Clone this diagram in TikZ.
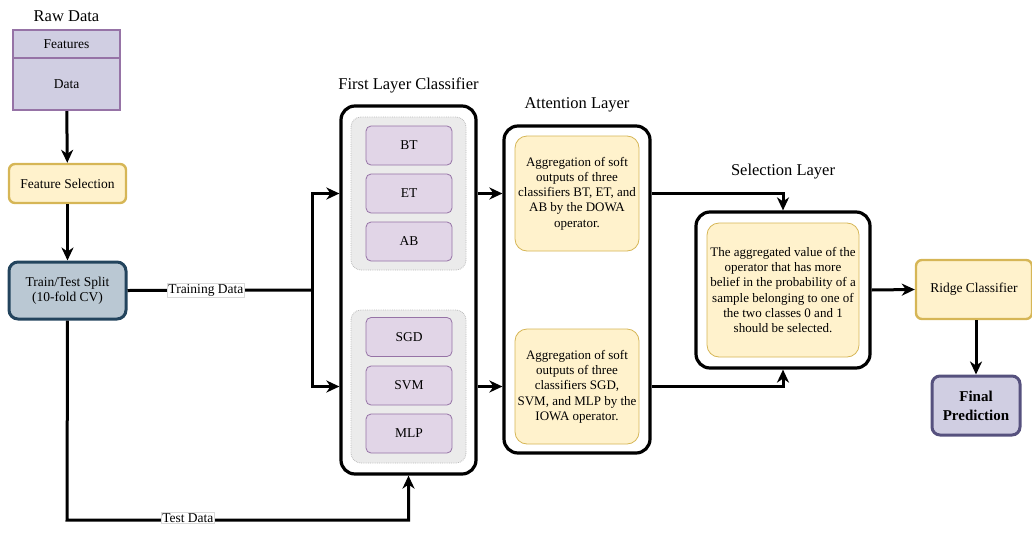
\documentclass[tikz,border=0pt]{standalone}
\usepackage{fontspec}
\setmainfont{Liberation Serif}
\usetikzlibrary{arrows.meta,positioning}

\definecolor{rawfill}{HTML}{D0CEE2}
\definecolor{rawline}{HTML}{9673A6}
\definecolor{yelfill}{HTML}{FFF2CC}
\definecolor{yelline}{HTML}{D6B656}
\definecolor{splitfill}{HTML}{BAC8D3}
\definecolor{splitline}{HTML}{23445D}
\definecolor{clsfill}{HTML}{E1D5E7}
\definecolor{grpfill}{HTML}{EBEBEB}
\definecolor{grpline}{HTML}{BDBDBD}
\definecolor{predline}{HTML}{56517E}

\tikzset{
	txt/.style={font=\fontsize{13.5}{15.5}\selectfont, align=center, inner sep=2pt},
	small/.style={font=\fontsize{13}{15.3}\selectfont, align=center, inner sep=2pt},
	heading/.style={font=\fontsize{16.5}{19}\selectfont, inner sep=2pt},
	rawbox/.style={txt, draw=rawline, fill=rawfill, line width=2.4pt, minimum width=107pt},
	yelbox/.style={txt, draw=yelline, fill=yelfill, line width=2.4pt, rounded corners=6pt},
	innerbox/.style={small, draw=yelline, fill=yelfill, line width=0.8pt, rounded corners=12pt},
	layer/.style={draw, line width=3.2pt, rounded corners=14pt, fill=white},
	group/.style={draw=grpline, densely dotted, fill=grpfill, line width=0.8pt, rounded corners=10pt, minimum width=115pt, minimum height=153pt},
	clsbox/.style={txt, draw=rawline, fill=clsfill, line width=0.8pt, rounded corners=5pt, minimum width=86pt, minimum height=39pt},
	flow/.style={line width=3pt},
	arr/.style={flow, -{Stealth[length=13pt,width=12pt,inset=4pt]}},
	lbl/.style={txt, fill=white, draw=black!15, line width=0.4pt, inner sep=1pt},
}

\begin{document}
\begin{tikzpicture}[x=1pt,y=-1pt]
	\useasboundingbox (0,0) rectangle (1032,533);

	% raw data
	\node[rawbox, minimum height=28pt] (feat) at (66.5,44) {Features};
	\node[rawbox, minimum height=52pt] (data) at (66.5,84) {Data};
	\node[heading, above=5pt of feat] (rawt) {Raw Data};

	\node[yelbox, minimum width=117pt, minimum height=39pt] (fsel) at (67.5,183.5) {Feature Selection};
	\node[txt, draw=splitline, fill=splitfill, line width=3pt, rounded corners=9pt, minimum width=117pt, minimum height=57pt] (split) at (67.5,290.5) {Train/Test Split\\(10-fold CV)};

	\draw[arr] (data) -- (fsel);
	\draw[arr] (fsel) -- (split);

	% first layer
	\node[layer, minimum width=135pt, minimum height=368pt] (first) at (408.5,290) {};
	\node[heading, above=9pt of first] (firstt) {First Layer Classifier};
	\node[group] (grp1) at (408.5,193.5) {};
	\node[group] (grp2) at (408.5,386.5) {};
	\node[clsbox] (bt) at (409,145.5) {BT};
	\node[clsbox] (et) at (409,193.5) {ET};
	\node[clsbox] (ab) at (409,241.5) {AB};
	\node[clsbox] (sgd) at (409,337) {SGD};
	\node[clsbox] (svm) at (409,385.5) {SVM};
	\node[clsbox] (mlp) at (409,433.5) {MLP};

	% attention layer
	\node[layer, minimum width=146pt, minimum height=327pt] (attn) at (577,289.5) {};
	\node[heading, above=10pt of attn] (attnt) {Attention Layer};
	\node[innerbox, minimum width=124pt, minimum height=115pt] (agg1) at (577,193.5) {Aggregation of soft\\outputs of three\\classifiers BT, ET, and\\AB by the DOWA\\operator.};
	\node[innerbox, minimum width=124pt, minimum height=115pt] (agg2) at (577,386.5) {Aggregation of soft\\outputs of three\\classifiers SGD,\\SVM, and MLP by the\\IOWA operator.};

	% selection layer
	\node[layer, minimum width=174pt, minimum height=156pt] (sel) at (783,290) {};
	\node[heading, above=29pt of sel] (selt) {Selection Layer};
	\node[innerbox, minimum width=152pt, minimum height=134pt] (selin) at (783,290) {The aggregated value of the\\operator that has more\\belief in the probability of a\\sample belonging to one of\\the two classes 0 and 1\\should be selected.};

	\node[yelbox, minimum width=116pt, minimum height=59pt] (ridge) at (974,289.5) {Ridge Classifier};
	\node[txt, font=\fontsize{15}{19}\selectfont\bfseries, draw=predline, fill=rawfill, line width=3pt, rounded corners=8pt, minimum width=88pt, minimum height=59pt] (final) at (976,405.5) {Final\\Prediction};

	% connectors
	\coordinate (fork) at (312,290);
	\draw[flow] (split.east) -- node[lbl, pos=0.425] {Training Data} (fork);
	\draw[arr] (fork) |- (first.west |- grp1);
	\draw[arr] (fork) |- (first.west |- grp2);

	\coordinate (tcorner) at (67,520);
	\draw[arr] (split.south) -- (tcorner) -- node[lbl, pos=0.354, yshift=2pt] {Test Data} (first.south |- tcorner) -- (first.south);

	\draw[arr] (first.east |- grp1) -- (attn.west |- grp1);
	\draw[arr] (first.east |- grp2) -- (attn.west |- grp2);
	\draw[arr] (attn.east |- agg1) -| (sel.north);
	\draw[arr] (attn.east |- agg2) -| (sel.south);
	\draw[arr] (sel.east) -- (ridge.west);
	\draw[arr] (ridge.south -| final.north) -- (final.north);
\end{tikzpicture}
\end{document}
